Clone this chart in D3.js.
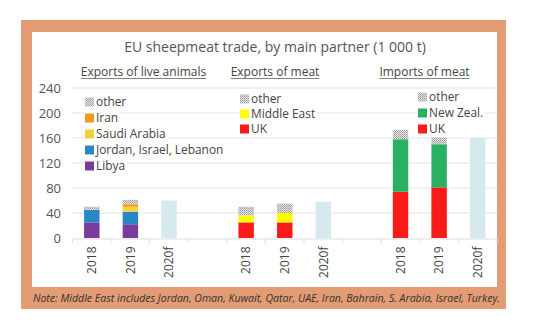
<!DOCTYPE html>
<html><head><meta charset="utf-8">
<script src="https://cdn.jsdelivr.net/npm/d3@7"></script>
<style>body{margin:0;background:#fff}svg{display:block}text{font-family:"Open Sans",sans-serif}</style>
</head><body>
<svg id="c" width="533" height="323"></svg>
<script>
const title = "EU sheepmeat trade, by main partner (1 000 t)";
const groups = ["Exports of live animals", "Exports of meat", "Imports of meat"];
const years = ["2018", "2019", "2020f"];
const yTicks = [0, 40, 80, 120, 160, 200, 240];
const note = "Note: Middle East includes Jordan, Oman, Kuwait, Qatar, UAE, Iran, Bahrain, S. Arabia, Israel, Turkey.";

// Exports of live animals (2018, 2019)
const liveNames = ["Libya", "Jordan, Israel, Lebanon", "Saudi Arabia", "Iran", "other"];
const liveLibya = [25, 22];
const liveJIL = [20, 20];
const liveSaudi = [0, 8];
const liveIran = [0, 4];
const liveOther = [5, 7];
const liveForecast = 60;

// Exports of meat
const meatNames = ["UK", "Middle East", "other"];
const meatUK = [25, 25];
const meatME = [11, 15];
const meatOther = [14, 15];
const meatForecast = 58;

// Imports of meat
const impNames = ["UK", "New Zeal.", "other"];
const impUK = [74, 81];
const impNZ = [84, 69];
const impOther = [15, 11];
const impForecast = 160;

const svg = d3.select("#c");
const defs = svg.append("defs");
const pat = defs.append("pattern").attr("id", "hatch").attr("width", 2).attr("height", 2)
  .attr("patternUnits", "userSpaceOnUse");
pat.append("rect").attr("width", 2).attr("height", 2).attr("fill", "#e4e4e4");
pat.append("rect").attr("width", 1).attr("height", 1).attr("fill", "#9a9a9a");
pat.append("rect").attr("x", 1).attr("y", 1).attr("width", 1).attr("height", 1).attr("fill", "#b0b0b0");

// frame
svg.append("rect").attr("x", 21).attr("y", 20).attr("width", 485).attr("height", 289).attr("fill", "#e39c73");
svg.append("rect").attr("x", 32).attr("y", 32).attr("width", 465).attr("height", 255).attr("fill", "#fff");

const groupKeys = ["live", "meat", "imp"];
const slots = [];
groupKeys.forEach((g, gi) => {
  years.forEach(y => slots.push(g + "|" + y));
  if (gi < 2) slots.push("gap" + gi);
});

const x = d3.scaleBand().domain(slots).range([72.5, 497]).paddingInner(0.6).paddingOuter(0.3);
const y = d3.scaleLinear().domain([0, 240]).range([238, 88]);

// gridlines
svg.append("g").selectAll("line").data(yTicks.slice(1)).join("line")
  .attr("x1", 72.5).attr("x2", 497).attr("y1", d => y(d)).attr("y2", d => y(d))
  .attr("stroke", "#e3e3e3").attr("stroke-width", 1);

// y axis labels
const yAx = svg.append("g").attr("transform", "translate(61,0)")
  .call(d3.axisLeft(y).tickValues(yTicks).tickSize(0).tickPadding(0));
yAx.select(".domain").remove();
yAx.selectAll("text").attr("font-size", 13).attr("fill", "#555").attr("font-family", "Open Sans");

// x axis
const xAx = svg.append("g").attr("transform", "translate(0,238.5)")
  .call(d3.axisBottom(x).tickSize(0).tickFormat(d => d.startsWith("gap") ? "" : d.split("|")[1]));
xAx.select(".domain").attr("stroke", "#ddd");
xAx.selectAll("text").attr("font-size", 12).attr("fill", "#444").attr("font-family", "Open Sans")
  .attr("transform", "rotate(-90)").attr("text-anchor", "end").attr("x", -8).attr("y", 0).attr("dy", "0.35em");
// tick marks at band boundaries
const bounds = d3.range(slots.length + 1).map(i => 72.5 + i * (497 - 72.5) / slots.length);
svg.append("g").selectAll("line").data(bounds).join("line")
  .attr("x1", d => d).attr("x2", d => d).attr("y1", 238.5).attr("y2", 243)
  .attr("stroke", "#ddd");

function drawStack(gkey, seriesArr, colors, forecast) {
  const rows = [0, 1].map(i => {
    const r = {year: years[i]};
    seriesArr.forEach((s, k) => r["s" + k] = s[i]);
    return r;
  });
  const keys = seriesArr.map((s, k) => "s" + k);
  const stacked = d3.stack().keys(keys)(rows);
  const g = svg.append("g");
  stacked.forEach((layer, k) => {
    g.selectAll(null).data(layer).join("rect")
      .attr("x", d => x(gkey + "|" + d.data.year))
      .attr("width", x.bandwidth())
      .attr("y", d => y(d[1]))
      .attr("height", d => y(d[0]) - y(d[1]))
      .attr("fill", colors[k]);
  });
  g.append("rect").attr("x", x(gkey + "|" + years[2])).attr("width", x.bandwidth())
    .attr("y", y(forecast)).attr("height", y(0) - y(forecast)).attr("fill", "#d6e9ec");
}

const cPurple = "#7a3b9c", cBlue = "#2b86c6", cYellow = "#f4d13a", cOrange = "#f39a1c";
const cRed = "#fb1a1a", cBright = "#ffff00", cGreen = "#29b062", cOther = "url(#hatch)";

drawStack("live", [liveLibya, liveJIL, liveSaudi, liveIran, liveOther], [cPurple, cBlue, cYellow, cOrange, cOther], liveForecast);
drawStack("meat", [meatUK, meatME, meatOther], [cRed, cBright, cOther], meatForecast);
drawStack("imp", [impUK, impNZ, impOther], [cRed, cGreen, cOther], impForecast);

// legends
function legend(x0, y0, spacing, names, colors) {
  const bg = svg.append("g");
  const g = svg.append("g");
  names.forEach((n, i) => {
    const yy = y0 + i * spacing;
    const t = g.append("text").attr("x", x0 + 11).attr("y", yy).attr("dy", "0.35em")
      .attr("font-size", 11.9).attr("fill", "#444").text(n);
    const w = t.node().getComputedTextLength();
    bg.append("rect").attr("x", x0 - 1).attr("y", yy - spacing / 2).attr("width", w + 14).attr("height", spacing).attr("fill", "#fff");
    g.append("rect").attr("x", x0).attr("y", yy - 4.5).attr("width", 9).attr("height", 9).attr("fill", colors[i]);
  });
}
legend(85, 102, 16, liveNames.slice().reverse(), [cOther, cOrange, cYellow, cBlue, cPurple]);
legend(240, 99, 15, meatNames.slice().reverse(), [cOther, cBright, cRed]);
legend(418, 97, 16, impNames.slice().reverse(), [cOther, cGreen, cRed]);

// title
svg.append("text").attr("x", 275).attr("y", 47).attr("dy", "0.35em").attr("text-anchor", "middle")
  .attr("font-size", 14).attr("fill", "#555").text(title);

// subtitles
const subX = [143.5, 275, 424.5];
groups.forEach((gname, i) => {
  const t = svg.append("text").attr("x", subX[i]).attr("y", 72).attr("dy", "0.35em").attr("text-anchor", "middle")
    .attr("font-size", 12).attr("fill", "#444").text(gname);
  const w = t.node().getComputedTextLength();
  svg.append("line").attr("x1", subX[i] - w / 2).attr("x2", subX[i] + w / 2).attr("y1", 78.5).attr("y2", 78.5)
    .attr("stroke", "#666").attr("stroke-width", 0.8);
});

// note
svg.append("text").attr("x", 33).attr("y", 298.5).attr("dy", "0.35em").attr("font-size", 10.55)
  .attr("font-style", "italic").attr("fill", "#333").text(note);
</script>
</body></html>
